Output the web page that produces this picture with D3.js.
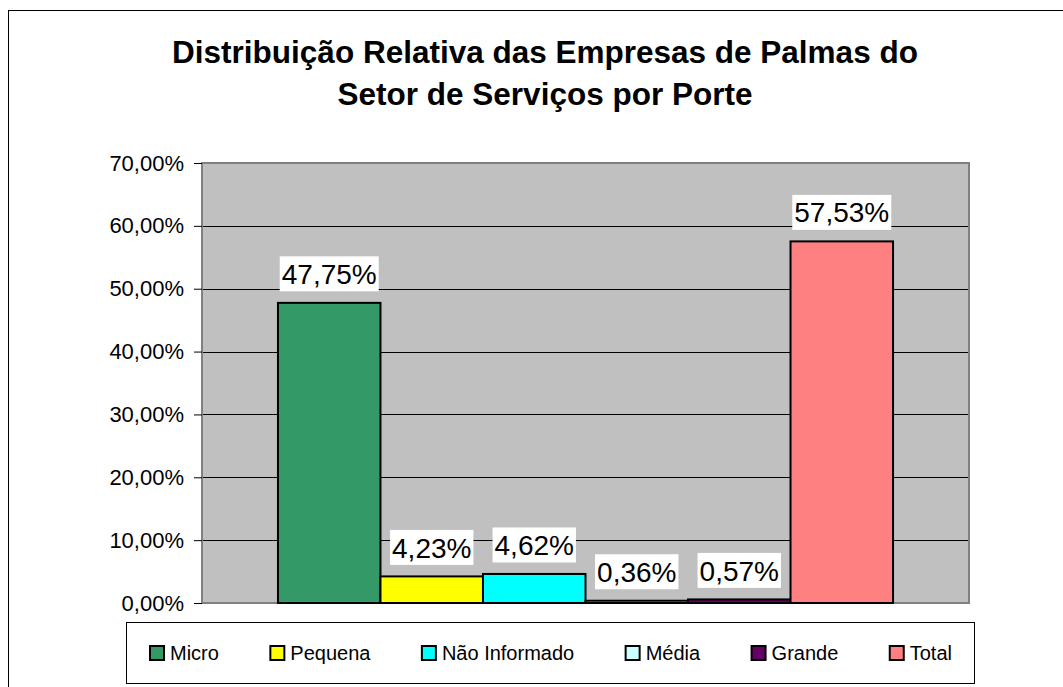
<!DOCTYPE html>
<html>
<head>
<meta charset="utf-8">
<script src="https://d3js.org/d3.v7.min.js"></script>
<style>
  body { margin: 0; background: #fff; }
  svg { display: block; font-family: "Liberation Sans", Arial, sans-serif; }
</style>
</head>
<body>
<svg width="1063" height="687"></svg>
<script>
var titleLines = ["Distribuição Relativa das Empresas de Palmas do", "Setor de Serviços por Porte"];
var series = ["Micro", "Pequena", "Não Informado", "Média", "Grande", "Total"];
var values = [0.4775, 0.0423, 0.0462, 0.0036, 0.0057, 0.5753];
var colors = ["#339966", "#ffff00", "#00ffff", "#ccffff", "#660066", "#ff8080"];
var yTicks = [0, 0.1, 0.2, 0.3, 0.4, 0.5, 0.6, 0.7];

var svg = d3.select("svg"),
    width = +svg.attr("width"),
    height = +svg.attr("height");

var plot = {left: 202, right: 969, top: 163, bottom: 603};

var ptBR = d3.formatLocale({decimal: ",", thousands: ".", grouping: [3], currency: ["R$", ""]});
var pct = ptBR.format(".2%");

var data = series.map(function(s, i) { return {name: s, value: values[i], color: colors[i]}; });

// outer chart border, runs off the right and bottom edge like the original
svg.append("rect")
    .attr("x", 8.5).attr("y", 10.5)
    .attr("width", width + 20).attr("height", height + 20)
    .attr("fill", "#fff").attr("stroke", "#000").attr("stroke-width", 1);

svg.append("g")
    .selectAll("text")
    .data(titleLines)
    .enter().append("text")
    .attr("x", 545)
    .attr("y", function(d, i) { return 63 + i * 42; })
    .attr("text-anchor", "middle")
    .attr("font-size", 31.5)
    .attr("font-weight", "bold")
    .text(function(d) { return d; });

var x = d3.scaleBand()
    .domain(series)
    .range([plot.left, plot.right])
    .paddingInner(0)
    .paddingOuter(0.741);

var y = d3.scaleLinear()
    .domain([0, 0.7])
    .range([plot.bottom, plot.top]);

// plot background
svg.append("rect")
    .attr("x", plot.left).attr("y", plot.top)
    .attr("width", plot.right - plot.left).attr("height", plot.bottom - plot.top)
    .attr("fill", "#c0c0c0");

svg.append("g")
    .selectAll("line")
    .data(yTicks.slice(1, -1))
    .enter().append("line")
    .attr("x1", plot.left).attr("x2", plot.right)
    .attr("y1", function(d) { return Math.round(y(d)) + 0.5; })
    .attr("y2", function(d) { return Math.round(y(d)) + 0.5; })
    .attr("stroke", "#000").attr("stroke-width", 1);

svg.append("rect")
    .attr("x", plot.left).attr("y", plot.top)
    .attr("width", plot.right - plot.left).attr("height", plot.bottom - plot.top)
    .attr("fill", "none").attr("stroke", "#808080").attr("stroke-width", 2);

var yAxis = svg.append("g")
    .attr("transform", "translate(" + plot.left + ",0)")
    .call(d3.axisLeft(y).tickValues(yTicks).tickFormat(pct).tickSize(8).tickPadding(10));

yAxis.select(".domain").remove();
yAxis.selectAll(".tick line").attr("stroke", "#000");
yAxis.selectAll(".tick text")
    .attr("font-size", 22)
    .attr("font-family", "Liberation Sans, Arial, sans-serif")
    .attr("fill", "#000");

svg.append("g")
    .selectAll("rect")
    .data(data)
    .enter().append("rect")
    .attr("x", function(d) { return x(d.name); })
    .attr("y", function(d) { return y(d.value); })
    .attr("width", x.bandwidth())
    .attr("height", function(d) { return y(0) - y(d.value); })
    .attr("fill", function(d) { return d.color; })
    .attr("stroke", "#000")
    .attr("stroke-width", 2);

// data labels with white boxes
var labels = svg.append("g")
    .selectAll("g")
    .data(data)
    .enter().append("g")
    .attr("transform", function(d) {
      return "translate(" + (x(d.name) + x.bandwidth() / 2) + "," + (y(d.value) - 29) + ")";
    });

labels.append("rect").attr("fill", "#fff");

labels.append("text")
    .attr("text-anchor", "middle")
    .attr("dy", "0.36em")
    .attr("font-size", 28)
    .text(function(d) { return pct(d.value); });

labels.each(function() {
  var g = d3.select(this);
  var w = g.select("text").node().getComputedTextLength();
  g.select("rect")
    .attr("x", -w / 2 - 2).attr("y", -17.5)
    .attr("width", w + 4).attr("height", 35);
});

// legend
var legendBox = {x: 126, y: 622, w: 848, h: 61};

svg.append("rect")
    .attr("x", legendBox.x + 0.5).attr("y", legendBox.y + 0.5)
    .attr("width", legendBox.w).attr("height", legendBox.h)
    .attr("fill", "#fff").attr("stroke", "#000").attr("stroke-width", 1);

var item = svg.append("g")
    .selectAll("g")
    .data(data)
    .enter().append("g");

item.append("rect")
    .attr("x", 0).attr("y", -7)
    .attr("width", 14).attr("height", 14)
    .attr("fill", function(d) { return d.color; })
    .attr("stroke", "#000").attr("stroke-width", 2);

item.append("text")
    .attr("x", 20)
    .attr("dy", "0.36em")
    .attr("font-size", 20)
    .text(function(d) { return d.name; });

var itemWidths = [];
item.each(function() {
  itemWidths.push(20 + d3.select(this).select("text").node().getComputedTextLength());
});
var padL = 24, padR = 22;
var gap = (legendBox.w - padL - padR - d3.sum(itemWidths)) / (itemWidths.length - 1);
var cx = legendBox.x + padL;
item.attr("transform", function(d, i) {
  var t = "translate(" + cx + "," + (legendBox.y + legendBox.h / 2 + 0.5) + ")";
  cx += itemWidths[i] + gap;
  return t;
});
</script>
</body>
</html>
